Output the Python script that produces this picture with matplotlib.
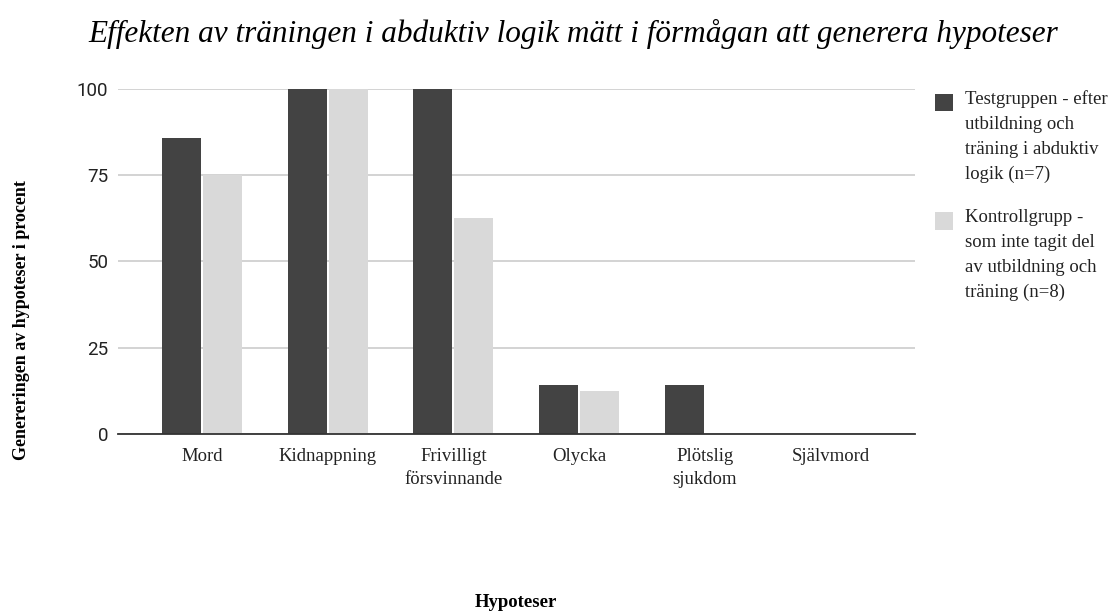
import matplotlib.pyplot as plt
from matplotlib.patches import Rectangle
import numpy as np

categories = ["Mord", "Kidnappning", "Frivilligt\nförsvinnande", "Olycka",
              "Plötslig\nsjukdom", "Självmord"]
test_group = [85.7, 100, 100, 14.3, 14.3, 0]
control_group = [75, 100, 62.5, 12.5, 0, 0]
yticks = [0, 25, 50, 75, 100]

label_test = "Testgruppen - efter\nutbildning och\nträning i abduktiv\nlogik (n=7)"
label_control = "Kontrollgrupp -\nsom inte tagit del\nav utbildning och\nträning (n=8)"
dark, light = '#434343', '#d9d9d9'

fig = plt.figure(figsize=(11.18, 6.12), dpi=100)
ax = fig.add_axes([0.1055, 0.291, 0.7125, 0.5637])

x = np.arange(len(categories))
w = 0.31
ax.bar(x - w / 2 - 0.008, test_group, w, color=dark, zorder=3)
ax.bar(x + w / 2 + 0.008, control_group, w, color=light, zorder=3)

ax.set_xlim(-0.67, len(categories) - 0.33)
ax.set_ylim(0, 100)
ax.set_yticks(yticks)
ax.set_yticklabels([str(v) for v in yticks], fontfamily='Roboto', fontsize=13.5, color='#222222')
ax.set_xticks(x)
ax.set_xticklabels(categories, fontfamily='Liberation Serif', fontsize=13.5, color='#222222',
                   linespacing=1.5)
ax.tick_params(length=0, pad=10)
ax.tick_params(axis='y', pad=7)
ax.grid(axis='y', color='#cccccc', linewidth=1.2, zorder=0)
for s in ['top', 'right', 'left']:
    ax.spines[s].set_visible(False)
ax.spines['bottom'].set_color('#333333')
ax.spines['bottom'].set_linewidth(1.3)
ax.spines['bottom'].set_zorder(4)

fig.text(0.513, 0.945, "Effekten av träningen i abduktiv logik mätt i förmågan att generera hypoteser",
         ha='center', va='center', fontfamily='Liberation Serif', fontstyle='italic', fontsize=22.5)
fig.text(0.019, 0.477, "Genereringen av hypoteser i procent", rotation=90, ha='center', va='center',
         fontfamily='Liberation Serif', fontweight='bold', fontsize=13)
fig.text(0.4615, 0.016, "Hypoteser", ha='center', va='center',
         fontfamily='Liberation Serif', fontweight='bold', fontsize=13.5)

# legend drawn by hand so the swatch sits at the first text line
for label, color, top in [(label_test, dark, 0.848), (label_control, light, 0.654)]:
    fig.patches.append(Rectangle((0.8365, top - 0.030), 0.0155, 0.029, transform=fig.transFigure,
                                 facecolor=color, edgecolor='none'))
    fig.text(0.863, top + 0.004, label, ha='left', va='top', fontfamily='Liberation Serif',
             fontsize=13.5, linespacing=1.6, color='#222222')

plt.savefig("out.png", dpi=100)
plt.close(fig)
